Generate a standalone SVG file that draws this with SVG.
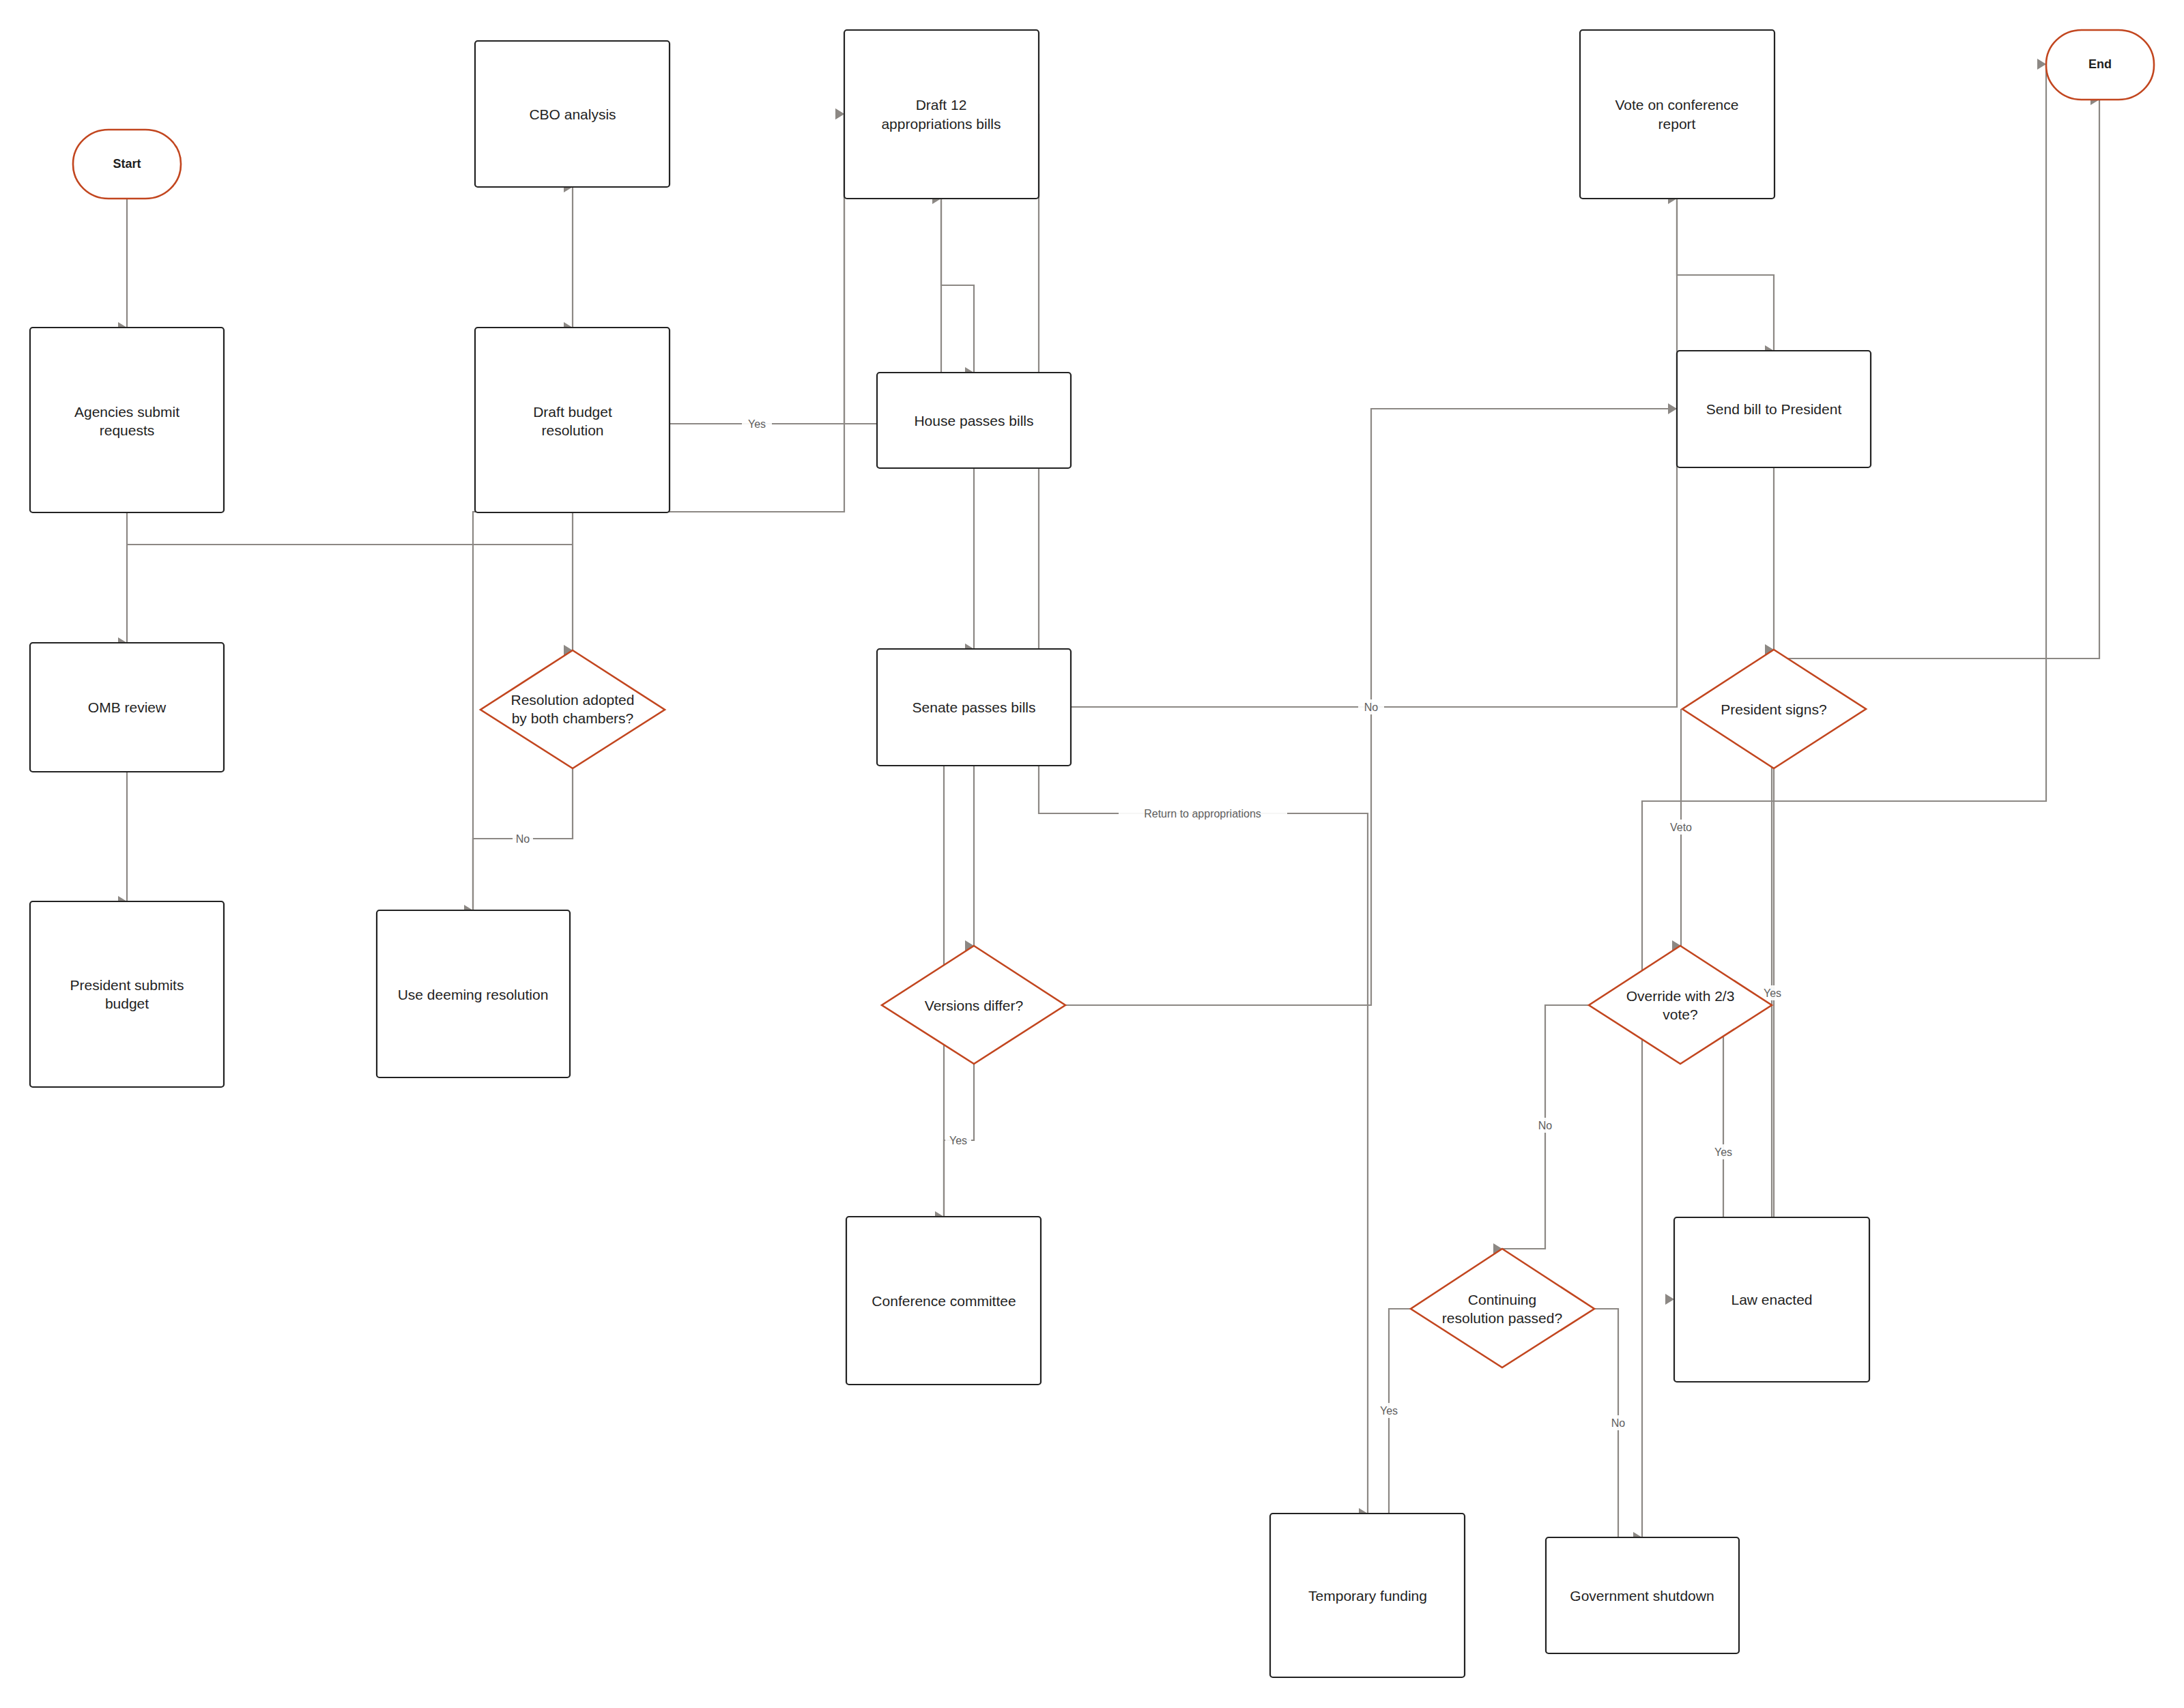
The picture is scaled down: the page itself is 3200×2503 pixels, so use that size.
<svg xmlns="http://www.w3.org/2000/svg" width="3200" height="2503" viewBox="0 0 3200 2503">
<style>
.bg{fill:#ffffff}
.box{fill:#ffffff;stroke:#222222;stroke-width:2.2}
.term{fill:#ffffff;stroke:#c2461f;stroke-width:2.6}
.dec{fill:#ffffff;stroke:#c2461f;stroke-width:2.6}
.t{font-family:"Liberation Sans",Arial,sans-serif;font-size:21px;fill:#1f1f1f;text-anchor:middle;dominant-baseline:central}
.tb{font-family:"Liberation Sans",Arial,sans-serif;font-size:18px;font-weight:bold;fill:#1f1f1f;text-anchor:middle;dominant-baseline:central}
.e{fill:none;stroke:#8c8884;stroke-width:2.2}
.a{marker-end:url(#arr)}
.s{marker-start:url(#arr)}
.lb{fill:#ffffff;fill-opacity:0.92}
.lt{font-family:"Liberation Sans",Arial,sans-serif;font-size:16px;fill:#5e5e5e;text-anchor:middle;dominant-baseline:central}
</style>
<defs>
<marker id="arr" markerUnits="userSpaceOnUse" viewBox="0 0 13 16" markerWidth="13" markerHeight="16" refX="13" refY="8" orient="0">
<path d="M0,0 L13,8 L0,16 Z" fill="#8c8884"/>
</marker>
</defs>
<rect class="bg" x="0" y="0" width="3200" height="2503"/>
<g id="connectors">
<path class="e a" d="M186,291 V480"/>
<path class="e a s" d="M839,480 V274"/>
<path class="e a" d="M839,751 V953"/>
<path class="e a" d="M186,751 V942"/>
<path class="e a" d="M186,1131 V1321"/>
<path class="e" d="M186,798 H839"/>
<path class="e a" d="M839,1126 V1229 H693 V1334"/>
<path class="e a" d="M693,1334 V750 H1237 V167"/>
<path class="e a" d="M981,621 H1237 V167"/>
<path class="e" d="M1237,621 H1284"/>
<path class="e a" d="M1379,291 V418 H1427 V546"/>
<path class="e a" d="M1379,546 V291"/>
<path class="e a" d="M1427,686 V951"/>
<path class="e a s" d="M2004,2218 V1192 H1522 V167"/>
<path class="e a" d="M1427,1122 V1386"/>
<path class="e a" d="M1427,1559 V1671 H1383 V1783"/>
<path class="e a" d="M1383,1783 V1036 H2457 V291"/>
<path class="e a" d="M1561,1473 H2009 V599 H2457"/>
<path class="e a" d="M2457,291 V403 H2599 V514"/>
<path class="e a" d="M2599,685 V952"/>
<path class="e a" d="M2463,1039 V1386"/>
<path class="e" d="M2599,1126 V1784"/>
<path class="e a" d="M2596,1784 V965 H3076 V146"/>
<path class="e a s" d="M2406,2253 V1174 H2998 V94"/>
<path class="e a" d="M2328,1473 H2264 V1830 H2201"/>
<path class="e a" d="M2525,1473 V1904 H2453"/>
<path class="e" d="M2067,1918 H2035 V2218"/>
<path class="e" d="M2336,1918 H2371 V2253"/>
<rect class="lb" x="1087" y="610" width="44" height="22"/>
<text class="lt" x="1109" y="621">Yes</text>
<rect class="lb" x="751" y="1218" width="30" height="22"/>
<text class="lt" x="766" y="1229">No</text>
<rect class="lb" x="1639" y="1181" width="247" height="22"/>
<text class="lt" x="1762" y="1192">Return to appropriations</text>
<rect class="lb" x="1990" y="1025" width="38" height="22"/>
<text class="lt" x="2009" y="1036">No</text>
<rect class="lb" x="1385" y="1660" width="38" height="22"/>
<text class="lt" x="1404" y="1671">Yes</text>
<rect class="lb" x="2441" y="1201" width="44" height="22"/>
<text class="lt" x="2463" y="1212">Veto</text>
<rect class="lb" x="2580" y="1444" width="36" height="22"/>
<text class="lt" x="2597" y="1455">Yes</text>
<rect class="lb" x="2249" y="1638" width="30" height="22"/>
<text class="lt" x="2264" y="1649">No</text>
<rect class="lb" x="2507" y="1677" width="36" height="22"/>
<text class="lt" x="2525" y="1688">Yes</text>
<rect class="lb" x="2017" y="2056" width="36" height="22"/>
<text class="lt" x="2035" y="2067">Yes</text>
<rect class="lb" x="2356" y="2074" width="30" height="22"/>
<text class="lt" x="2371" y="2085">No</text>
</g>
<g id="start"><rect class="term" x="107" y="190" width="158" height="101" rx="52" ry="50"/><text class="tb" x="186" y="240">Start</text></g>
<g id="end"><rect class="term" x="2998" y="44" width="158" height="102" rx="52" ry="50"/><text class="tb" x="3077" y="94">End</text></g>
<g id="cbo"><rect class="box" x="696" y="60" width="285" height="214" rx="4"/><text class="t" x="839" y="167">CBO analysis</text></g>
<g id="agencies"><rect class="box" x="44" y="480" width="284" height="271" rx="4"/><text class="t" x="186" y="603">Agencies submit</text><text class="t" x="186" y="630">requests</text></g>
<g id="draftbudget"><rect class="box" x="696" y="480" width="285" height="271" rx="4"/><text class="t" x="839" y="603">Draft budget</text><text class="t" x="839" y="630">resolution</text></g>
<g id="draft12"><rect class="box" x="1237" y="44" width="285" height="247" rx="4"/><text class="t" x="1379" y="153">Draft 12</text><text class="t" x="1379" y="181">appropriations bills</text></g>
<g id="house"><rect class="box" x="1285" y="546" width="284" height="140" rx="4"/><text class="t" x="1427" y="616">House passes bills</text></g>
<g id="senate"><rect class="box" x="1285" y="951" width="284" height="171" rx="4"/><text class="t" x="1427" y="1036">Senate passes bills</text></g>
<g id="vote"><rect class="box" x="2315" y="44" width="285" height="247" rx="4"/><text class="t" x="2457" y="153">Vote on conference</text><text class="t" x="2457" y="181">report</text></g>
<g id="sendbill"><rect class="box" x="2457" y="514" width="284" height="171" rx="4"/><text class="t" x="2599" y="599">Send bill to President</text></g>
<g id="omb"><rect class="box" x="44" y="942" width="284" height="189" rx="4"/><text class="t" x="186" y="1036">OMB review</text></g>
<g id="presidentsubmits"><rect class="box" x="44" y="1321" width="284" height="272" rx="4"/><text class="t" x="186" y="1443">President submits</text><text class="t" x="186" y="1470">budget</text></g>
<g id="deeming"><rect class="box" x="552" y="1334" width="283" height="245" rx="4"/><text class="t" x="693" y="1457">Use deeming resolution</text></g>
<g id="resadopted"><polygon class="dec" points="839,953 974,1040 839,1126 704,1040"/><text class="t" x="839" y="1025">Resolution adopted</text><text class="t" x="839" y="1052">by both chambers?</text></g>
<g id="versions"><polygon class="dec" points="1427,1386 1561,1473 1427,1559 1292,1473"/><text class="t" x="1427" y="1473">Versions differ?</text></g>
<g id="conference"><rect class="box" x="1240" y="1783" width="285" height="246" rx="4"/><text class="t" x="1383" y="1906">Conference committee</text></g>
<g id="presidentsigns"><polygon class="dec" points="2599,952 2734,1039 2599,1126 2465,1039"/><text class="t" x="2599" y="1039">President signs?</text></g>
<g id="override"><polygon class="dec" points="2462,1386 2596,1473 2462,1559 2328,1473"/><text class="t" x="2462" y="1459">Override with 2/3</text><text class="t" x="2462" y="1486">vote?</text></g>
<g id="cr"><polygon class="dec" points="2201,1830 2336,1918 2201,2004 2067,1918"/><text class="t" x="2201" y="1904">Continuing</text><text class="t" x="2201" y="1931">resolution passed?</text></g>
<g id="law"><rect class="box" x="2453" y="1784" width="286" height="241" rx="4"/><text class="t" x="2596" y="1904">Law enacted</text></g>
<g id="tempfunding"><rect class="box" x="1861" y="2218" width="285" height="240" rx="4"/><text class="t" x="2004" y="2338">Temporary funding</text></g>
<g id="shutdown"><rect class="box" x="2265" y="2253" width="283" height="170" rx="4"/><text class="t" x="2406" y="2338">Government shutdown</text></g>
</svg>
